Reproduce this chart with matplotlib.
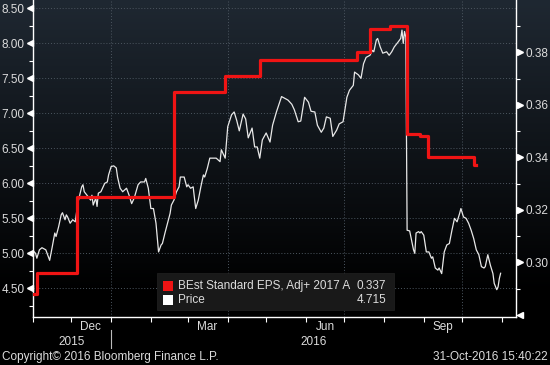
import numpy as np
import pandas as pd
import matplotlib
matplotlib.use("Agg")
import matplotlib.pyplot as plt
import matplotlib.dates as mdates
from matplotlib.ticker import MultipleLocator, FixedLocator, FixedFormatter, FormatStrFormatter, NullFormatter
from matplotlib.transforms import blended_transform_factory
from matplotlib.patches import Rectangle

plt.rcParams['font.family'] = ['Liberation Sans', 'DejaVu Sans']

# ---------------- data ----------------
price_dates = [
    "2015-11-02", "2015-11-03", "2015-11-04", "2015-11-06", "2015-11-08", "2015-11-11", "2015-11-13",
    "2015-11-14", "2015-11-16", "2015-11-18", "2015-11-19", "2015-11-21", "2015-11-23", "2015-11-24",
    "2015-11-26", "2015-11-27", "2015-11-28", "2015-11-30", "2015-12-02", "2015-12-04", "2015-12-06",
    "2015-12-09", "2015-12-10", "2015-12-11", "2015-12-14", "2015-12-16", "2015-12-17", "2015-12-18",
    "2015-12-20", "2015-12-21", "2015-12-22", "2015-12-24", "2015-12-27", "2015-12-29", "2015-12-30",
    "2016-01-01", "2016-01-03", "2016-01-05", "2016-01-06", "2016-01-08", "2016-01-10", "2016-01-13",
    "2016-01-15", "2016-01-17", "2016-01-19", "2016-01-22", "2016-01-24", "2016-01-27", "2016-01-28",
    "2016-01-30", "2016-02-01", "2016-02-03", "2016-02-05", "2016-02-07", "2016-02-09", "2016-02-10",
    "2016-02-12", "2016-02-14", "2016-02-16", "2016-02-17", "2016-02-19", "2016-02-21", "2016-02-23",
    "2016-02-24", "2016-02-27", "2016-02-29", "2016-03-01", "2016-03-03", "2016-03-05", "2016-03-07",
    "2016-03-09", "2016-03-11", "2016-03-13", "2016-03-14", "2016-03-16", "2016-03-18", "2016-03-20",
    "2016-03-23", "2016-03-26", "2016-03-27", "2016-03-30", "2016-04-01", "2016-04-04", "2016-04-06",
    "2016-04-08", "2016-04-10", "2016-04-13", "2016-04-15", "2016-04-17", "2016-04-20", "2016-04-22",
    "2016-04-24", "2016-04-26", "2016-04-28", "2016-05-01", "2016-05-04", "2016-05-06", "2016-05-09",
    "2016-05-13", "2016-05-15", "2016-05-18", "2016-05-21", "2016-05-23", "2016-05-26", "2016-05-28",
    "2016-05-31", "2016-06-03", "2016-06-05", "2016-06-08", "2016-06-10", "2016-06-13", "2016-06-15",
    "2016-06-17", "2016-06-20", "2016-06-22", "2016-06-25", "2016-06-27", "2016-06-30", "2016-07-03",
    "2016-07-05", "2016-07-08", "2016-07-09", "2016-07-12", "2016-07-14", "2016-07-16", "2016-07-18",
    "2016-07-21", "2016-07-23", "2016-07-24", "2016-07-26", "2016-07-27", "2016-07-29", "2016-07-31",
    "2016-08-03", "2016-08-05", "2016-08-07", "2016-08-09", "2016-08-12", "2016-08-14", "2016-08-15",
    "2016-08-16", "2016-08-17", "2016-08-18", "2016-08-19", "2016-08-21", "2016-08-24", "2016-08-25",
    "2016-08-26", "2016-08-28", "2016-08-29", "2016-08-30", "2016-09-01", "2016-09-03", "2016-09-05",
    "2016-09-07", "2016-09-08", "2016-09-10", "2016-09-12", "2016-09-13", "2016-09-15", "2016-09-16",
    "2016-09-17", "2016-09-19", "2016-09-21", "2016-09-23", "2016-09-25", "2016-09-27", "2016-09-29",
    "2016-09-30", "2016-10-02", "2016-10-04", "2016-10-06", "2016-10-08", "2016-10-10", "2016-10-12",
    "2016-10-14", "2016-10-16", "2016-10-18", "2016-10-19", "2016-10-21", "2016-10-23", "2016-10-25",
    "2016-10-26", "2016-10-28", "2016-10-29", "2016-10-30", "2016-10-31",
]
price_values = [
    5.02, 5.00, 4.93, 5.05, 5.08, 5.05, 4.95,
    4.90, 5.09, 5.29, 5.24, 5.38, 5.55, 5.58,
    5.48, 5.55, 5.52, 5.43, 5.48, 5.45, 5.72,
    5.95, 5.98, 5.88, 5.81, 5.76, 5.83, 5.69,
    5.79, 5.67, 5.86, 5.88, 6.00, 6.02, 6.12,
    6.24, 6.25, 6.22, 6.09, 5.93, 5.88, 5.93,
    5.83, 5.71, 5.79, 5.98, 6.02, 6.02, 6.07,
    5.93, 5.64, 5.64, 5.43, 5.02, 5.12, 5.14,
    5.29, 5.43, 5.57, 5.69, 5.76, 5.88, 5.95,
    6.09, 6.09, 5.95, 5.98, 5.93, 5.95, 5.64,
    5.76, 5.95, 6.12, 6.09, 6.21, 6.36, 6.36,
    6.36, 6.31, 6.48, 6.36, 6.81, 6.98, 7.02,
    6.90, 6.75, 6.99, 6.92, 6.65, 6.79, 6.52,
    6.52, 6.36, 6.62, 6.72, 6.59, 6.83, 7.02,
    7.24, 7.22, 7.19, 7.13, 7.05, 6.88, 6.89,
    7.23, 7.16, 7.03, 7.02, 6.83, 6.73, 6.79,
    6.95, 6.93, 6.67, 6.76, 6.85, 6.88, 7.23,
    7.33, 7.40, 7.59, 7.55, 7.50, 7.71, 7.80,
    7.83, 7.90, 7.88, 8.05, 8.07, 7.95, 7.86,
    7.88, 7.83, 7.88, 7.95, 8.02, 8.07, 8.19,
    8.00, 8.17, 8.09, 5.33, 5.32, 5.05, 5.00,
    5.29, 5.31, 5.29, 5.31, 5.26, 5.02, 5.02,
    4.93, 4.95, 4.79, 4.76, 4.79, 4.71, 4.86,
    5.02, 5.12, 5.14, 5.33, 5.50, 5.45, 5.57,
    5.64, 5.52, 5.50, 5.43, 5.33, 5.21, 5.05,
    4.98, 4.81, 4.79, 4.81, 4.98, 4.83, 4.71,
    4.57, 4.48, 4.52, 4.64, 4.715,
]

eps_dates = ["2015-11-02", "2015-11-04", "2015-12-05", "2016-02-19", "2016-03-30", "2016-04-26",
             "2016-07-11", "2016-07-21", "2016-08-06", "2016-08-19", "2016-08-29", "2016-09-04",
             "2016-10-10"]
eps_values = [0.288, 0.296, 0.325, 0.365, 0.371, 0.377,
              0.380, 0.389, 0.390, 0.349, 0.348, 0.340,
              0.337]
eps_last_date = "2016-10-12"

left_ticks = [4.50, 5.00, 5.50, 6.00, 6.50, 7.00, 7.50, 8.00, 8.50]
right_ticks = [0.30, 0.32, 0.34, 0.36, 0.38]
month_labels = ["Dec", "Mar", "Jun", "Sep"]
month_label_dates = ["2015-12-16", "2016-03-16", "2016-06-16", "2016-09-16"]
year_labels = ["2015", "2016"]
legend_labels = ["BEst Standard EPS, Adj+ 2017 A", "Price"]
x_range = ["2015-11-01", "2016-11-12"]
left_range = [4.09, 8.62]
right_range = [0.2792, 0.3999]
copyright_text = "Copyright\u00a9 2016 Bloomberg Finance L.P."
stamp_text = "31-Oct-2016 15:40:22"

# ---------------- style ----------------
W, H = 550, 365
TXT = '#dcdcdc'
RED = '#f01414'
GRIDC = '#4c5660'
FS = 8.5

fig = plt.figure(figsize=(W / 100, H / 100), dpi=100)

# background gradient
bg = fig.add_axes([0, 0, 1, 1], zorder=-10)
t = np.linspace(0, 1, H)[:, None]
top = np.array([31, 40, 50]) / 255.0
fade = np.clip(1 - t / 0.8, 0, 1)
img = fade[..., None] * top
bg.imshow(img, aspect='auto', extent=[0, 1, 0, 1], interpolation='bilinear')
bg.axis('off')

ax_w, ax_h = 483, 317
ax = fig.add_axes([33 / W, 48 / H, ax_w / W, ax_h / H])
ax.set_facecolor('none')
ax2 = ax.twinx()

pdates = pd.to_datetime(price_dates)
edates = list(pd.to_datetime(eps_dates)) + [pd.Timestamp(eps_last_date)]
evals = eps_values + [eps_values[-1]]

xl = pd.to_datetime(x_range)
ax.set_xlim(xl[0], xl[1])
ax.set_ylim(*left_range)
ax2.set_ylim(*right_range)

# grid
ax.set_yticks(left_ticks)
ax.grid(axis='y', color=GRIDC, ls=(0, (1, 2)), lw=0.7)
for q in pd.date_range(xl[0], xl[1], freq='QS'):
    ax.axvline(q, color=GRIDC, ls=(0, (1, 2)), lw=0.7, zorder=0.5)

# series
ax.plot(pdates, price_values, color='#e8e8e8', lw=0.9, zorder=3)
ax2.plot(edates, evals, drawstyle='steps-post', color=RED, lw=2.3, zorder=4)

# spines
for a in (ax, ax2):
    for s in a.spines.values():
        s.set_visible(False)
for s in ('left', 'bottom'):
    ax.spines[s].set_visible(True)
    ax.spines[s].set_color('white')
    ax.spines[s].set_linewidth(1)
ax2.spines['right'].set_visible(True)
ax2.spines['right'].set_color('white')
ax2.spines['right'].set_linewidth(1)

# y ticks
ax.yaxis.set_major_formatter(FormatStrFormatter('%.2f'))
ax.yaxis.set_minor_locator(MultipleLocator(0.25))
ax.tick_params(axis='y', which='major', length=0, pad=6, labelcolor=TXT, labelsize=FS)
ax.tick_params(axis='y', which='minor', length=3, color='white', width=0.8, direction='out')

ax2.set_yticks(right_ticks)
ax2.yaxis.set_major_formatter(FormatStrFormatter('%.2f'))
ax2.yaxis.set_minor_locator(MultipleLocator(0.01))
ax2.tick_params(axis='y', which='major', length=0, pad=7, labelcolor=TXT, labelsize=FS)
ax2.tick_params(axis='y', which='minor', length=3, color='white', width=0.8, direction='out')

# triangle tick markers
lt = blended_transform_factory(ax.transAxes, ax.transData)
ax.plot([-3.5 / ax_w] * len(left_ticks), left_ticks, ls='none', marker='<', ms=4.5,
        color='white', transform=lt, clip_on=False, zorder=5)
rt = blended_transform_factory(ax2.transAxes, ax2.transData)
ax2.plot([1 + 3.5 / ax_w] * len(right_ticks), right_ticks, ls='none', marker='>', ms=4.5,
         color='white', transform=rt, clip_on=False, zorder=5)
ax2.plot([1 + 3.5 / ax_w], [2 / ax_h], ls='none', marker='<', ms=4.5, color='white',
         transform=ax2.transAxes, clip_on=False, zorder=5)

# x ticks
ax.xaxis.set_major_locator(mdates.MonthLocator())
ax.xaxis.set_major_formatter(NullFormatter())
ax.tick_params(axis='x', which='major', length=3.5, color='white', width=0.8, direction='out')
ax.xaxis.set_minor_locator(FixedLocator(mdates.date2num(pd.to_datetime(month_label_dates))))
ax.xaxis.set_minor_formatter(FixedFormatter(month_labels))
ax.tick_params(axis='x', which='minor', length=0, pad=3, labelcolor=TXT, labelsize=FS)

# year labels and separators
xt = blended_transform_factory(ax.transData, ax.transAxes)
for lab in year_labels:
    y0 = max(xl[0], pd.Timestamp(f"{lab}-01-01"))
    y1 = min(xl[1], pd.Timestamp(f"{int(lab) + 1}-01-01"))
    c = y0 + (y1 - y0) / 2
    ax.text(c, -25 / ax_h, lab, transform=xt, ha='center', va='center', color=TXT, fontsize=FS)
    if pd.Timestamp(f"{lab}-01-01") > xl[0]:
        ax.axvline(pd.Timestamp(f"{lab}-01-01"), ymin=-31 / ax_h, ymax=-13 / ax_h,
                   clip_on=False, color='#bbbbbb', lw=0.8)

# legend (manual, Bloomberg style)
fig.patches.append(Rectangle((157 / W, 1 - 310 / H), (394 - 157) / W, 37 / H,
                             transform=fig.transFigure, facecolor='#191919', edgecolor='#222222',
                             lw=0.5, zorder=2))
leg_colors = [RED, 'white']
leg_values = [f"{eps_values[-1]:.3f}", f"{price_values[-1]:.3f}"]
for i, (lab, col, val) in enumerate(zip(legend_labels, leg_colors, leg_values)):
    yc = 286 + i * 14
    fig.patches.append(Rectangle((163 / W, 1 - (yc + 5) / H), 10 / W, 10 / H,
                                 transform=fig.transFigure, facecolor=col, edgecolor='none', zorder=3))
    fig.text(178 / W, 1 - yc / H, lab, color=TXT, fontsize=FS, va='center', ha='left', zorder=4)
    fig.text(386 / W, 1 - yc / H, val, color=TXT, fontsize=FS, va='center', ha='right', zorder=4)

# footer
fig.text(2 / W, 1 - 357 / H, copyright_text, color=TXT, fontsize=FS, va='center', ha='left')
fig.text(548 / W, 1 - 357 / H, stamp_text, color=TXT, fontsize=FS, va='center', ha='right')

fig.savefig('out.png', dpi=100)
